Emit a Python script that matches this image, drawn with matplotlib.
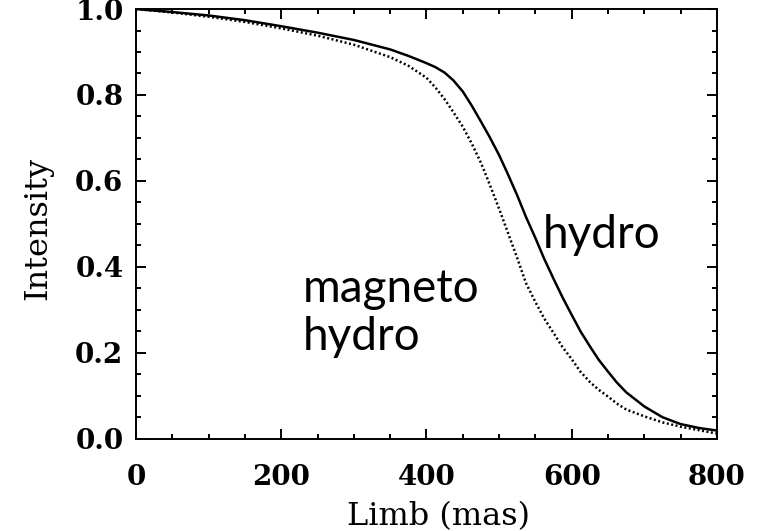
import matplotlib
matplotlib.use('Agg')
import matplotlib.pyplot as plt
from matplotlib.ticker import MultipleLocator

# limb darkening profiles, intensity vs distance from centre (mas)
limb = [0, 50, 100, 150, 200, 250, 300, 350, 375, 400, 412, 425, 437, 450,
        462, 475, 487, 500, 512, 525, 537, 550, 562, 575, 587, 600, 612, 625,
        637, 650, 662, 675, 700, 725, 750, 775, 800]
hydro = [1.0, 0.993, 0.985, 0.974, 0.960, 0.945, 0.928, 0.906, 0.891, 0.874,
         0.865, 0.852, 0.834, 0.808, 0.776, 0.738, 0.702, 0.660, 0.616, 0.566,
         0.516, 0.467, 0.419, 0.372, 0.330, 0.288, 0.250, 0.215, 0.184, 0.156,
         0.131, 0.108, 0.075, 0.050, 0.034, 0.025, 0.019]
mhd = [1.0, 0.992, 0.982, 0.970, 0.955, 0.938, 0.917, 0.888, 0.868, 0.840,
       0.818, 0.790, 0.760, 0.726, 0.688, 0.642, 0.592, 0.535, 0.480, 0.420,
       0.362, 0.318, 0.280, 0.246, 0.214, 0.185, 0.156, 0.132, 0.114, 0.098,
       0.082, 0.068, 0.052, 0.038, 0.028, 0.020, 0.012]

tick_font = {'family': 'DejaVu Serif', 'weight': 'bold', 'size': 20}
label_font = {'family': 'DejaVu Serif', 'size': 23}

fig = plt.figure(figsize=(7.67, 5.31), dpi=100)
ax = fig.add_axes([0.1773, 0.1738, 0.7575, 0.8092])

ax.plot(limb, hydro, color='black', lw=1.8)
ax.plot(limb, mhd, color='black', lw=1.8, linestyle=(0, (0.8, 1.0)))

ax.set_xlim(0, 800)
ax.set_ylim(0, 1.0)
ax.xaxis.set_major_locator(MultipleLocator(200))
ax.xaxis.set_minor_locator(MultipleLocator(50))
ax.yaxis.set_major_locator(MultipleLocator(0.2))
ax.yaxis.set_minor_locator(MultipleLocator(0.05))
ax.yaxis.set_major_formatter(plt.FormatStrFormatter('%.1f'))

ax.tick_params(which='both', direction='in', top=True, right=True, width=1.4)
ax.tick_params(which='major', length=7)
ax.tick_params(which='minor', length=3.5)
ax.tick_params(axis='x', which='major', pad=18)
ax.tick_params(axis='y', which='major', pad=9)
for lab in ax.get_xticklabels() + ax.get_yticklabels():
    lab.set_fontproperties(tick_font)
for sp in ax.spines.values():
    sp.set_linewidth(1.4)

ax.set_xlabel('Limb (mas)', fontdict=label_font, va='baseline')
ax.xaxis.set_label_coords(0.52, -0.2008)
ax.set_ylabel('Intensity', fontdict=label_font, va='center')
ax.yaxis.set_label_coords(-0.1695, 0.489)

sans = {'family': 'Lato', 'size': 33}
ax.text(560, 0.445, 'hydro', fontdict=sans, ha='left', va='baseline')
ax.text(230, 0.319, 'magneto', fontdict=sans, ha='left', va='baseline')
ax.text(230, 0.207, 'hydro', fontdict=sans, ha='left', va='baseline')

fig.savefig('out.png', dpi=100)
